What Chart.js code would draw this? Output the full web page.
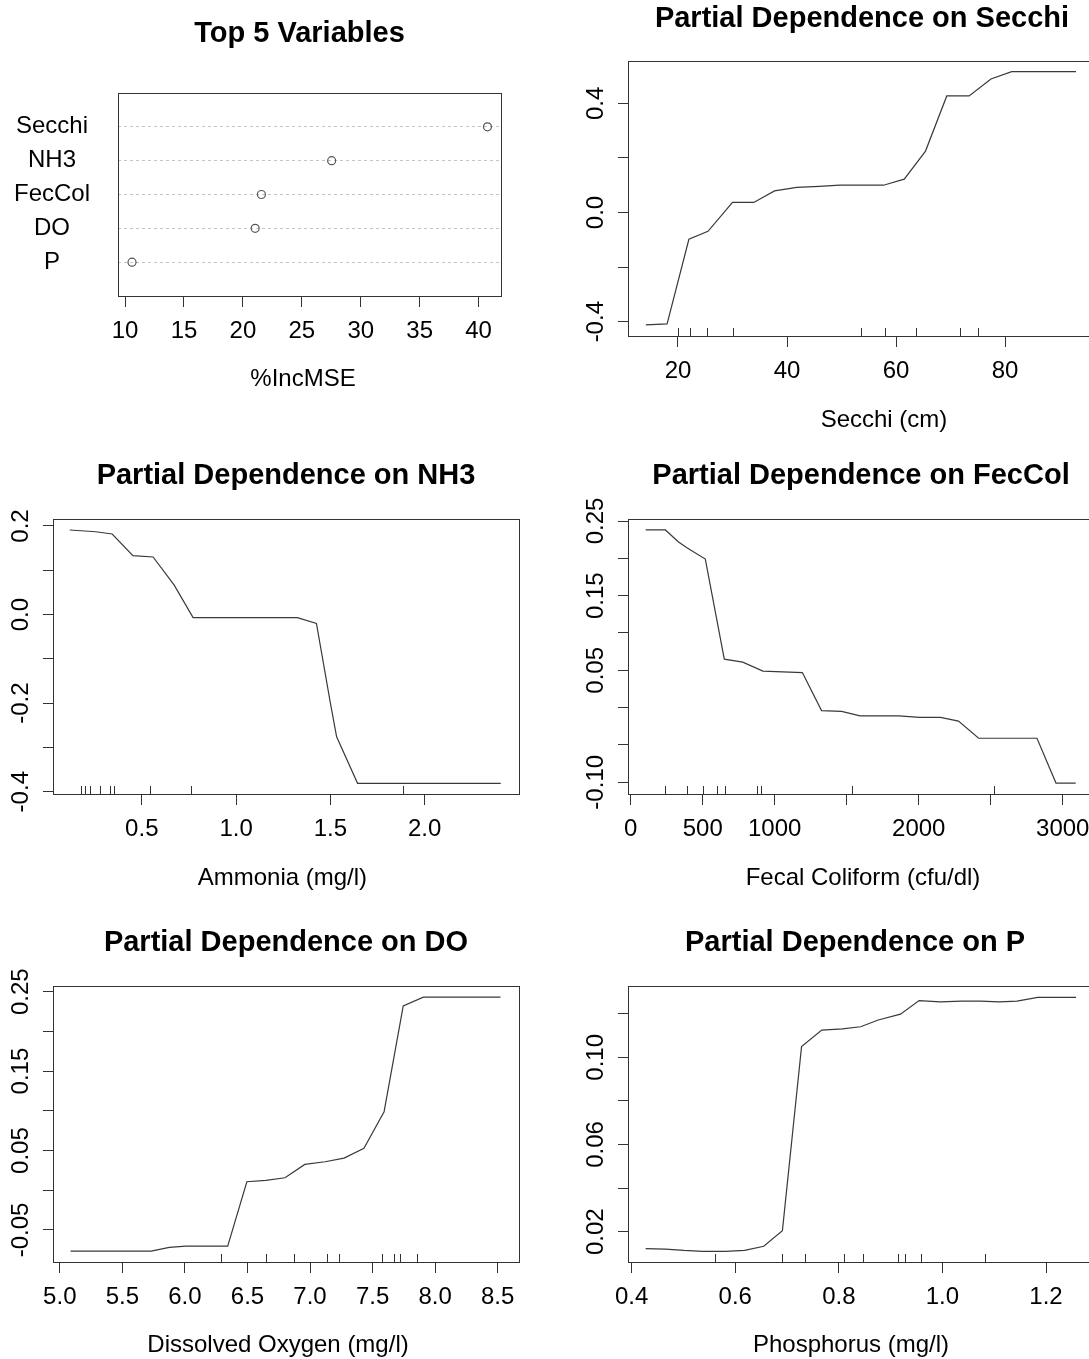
<!DOCTYPE html>
<html>
<head>
<meta charset="utf-8">
<title>Random forest: variable importance and partial dependence</title>
<script src="https://cdn.jsdelivr.net/npm/chart.js@4.4.1/dist/chart.umd.min.js"></script>
<style>
  html, body { margin: 0; padding: 0; background: #fff; }
  #page { position: relative; width: 1089px; height: 1359px; overflow: hidden; background: #fff; }
  #page canvas { position: absolute; }
</style>
</head>
<body>
<div id="page"></div>
<script>
// ---- variable importance (%IncMSE) ----
const varNames = ['Secchi', 'NH3', 'FecCol', 'DO', 'P'];
const incMSE = [40.75, 27.53, 21.57, 21.04, 10.59];
const incTicks = [10, 15, 20, 25, 30, 35, 40];
const incTickLabels = ['10', '15', '20', '25', '30', '35', '40'];

// ---- partial dependence on Secchi ----
const secchiX = [14.1, 18.0, 22.0, 25.5, 30.0, 33.9, 37.7, 41.8, 45.9, 49.7, 57.7, 61.5, 65.4, 69.3, 73.4, 77.4, 81.2, 93.0];
const secchiY = [-0.412, -0.408, -0.098, -0.069, 0.037, 0.037, 0.079, 0.092, 0.096, 0.100, 0.100, 0.122, 0.225, 0.427, 0.427, 0.489, 0.516, 0.516];
const secchiRug = [20, 22.2, 25.3, 30, 53.5, 58, 63.7, 71.7, 75];
const secchiXTicks = [20, 40, 60, 80];
const secchiXLabels = ['20', '40', '60', '80'];
const secchiYTicks = [-0.4, -0.2, 0, 0.2, 0.4];
const secchiYLabels = ['-0.4', '', '0.0', '', '0.4'];

// ---- partial dependence on NH3 ----
const nh3X = [0.118, 0.256, 0.343, 0.453, 0.560, 0.671, 0.772, 1.325, 1.426, 1.500, 1.533, 1.644, 2.403];
const nh3Y = [0.191, 0.187, 0.182, 0.133, 0.130, 0.067, -0.007, -0.007, -0.020, -0.200, -0.276, -0.381, -0.381];
const nh3Rug = [0.177, 0.201, 0.225, 0.280, 0.330, 0.350, 0.542, 0.759, 1.887];
const nh3XTicks = [0.5, 1.0, 1.5, 2.0];
const nh3XLabels = ['0.5', '1.0', '1.5', '2.0'];
const nh3YTicks = [-0.4, -0.3, -0.2, -0.1, 0, 0.1, 0.2];
const nh3YLabels = ['-0.4', '', '-0.2', '', '0.0', '', '0.2'];

// ---- partial dependence on FecCol ----
const fecX = [104, 241, 332, 393, 518, 650, 778, 918, 1192, 1325, 1465, 1592, 1862, 2006, 2151, 2276, 2416, 2821, 2953, 3090];
const fecY = [0.238, 0.238, 0.222, 0.214, 0.199, 0.065, 0.061, 0.049, 0.047, -0.004, -0.005, -0.011, -0.011, -0.013, -0.013, -0.018, -0.041, -0.041, -0.101, -0.101];
const fecRug = [236, 388, 501, 602, 653, 879, 903, 1537, 2524];
const fecXTicks = [0, 500, 1000, 1500, 2000, 2500, 3000];
const fecXLabels = ['0', '500', '1000', '', '2000', '', '3000'];
const fecYTicks = [-0.10, -0.05, 0, 0.05, 0.10, 0.15, 0.20, 0.25];
const fecYLabels = ['-0.10', '', '', '0.05', '', '0.15', '', '0.25'];

// ---- partial dependence on DO ----
const doX = [5.086, 5.731, 5.875, 6.008, 6.342, 6.495, 6.647, 6.800, 6.958, 7.120, 7.272, 7.431, 7.592, 7.745, 7.906, 8.522];
const doY = [-0.0766, -0.0766, -0.0720, -0.0703, -0.0703, 0.0107, 0.0124, 0.0157, 0.0325, 0.0359, 0.0405, 0.0527, 0.0989, 0.2320, 0.2430, 0.2430];
const doRug = [6.292, 6.647, 6.870, 7.133, 7.231, 7.578, 7.675, 7.717, 7.856];
const doXTicks = [5.0, 5.5, 6.0, 6.5, 7.0, 7.5, 8.0, 8.5];
const doXLabels = ['5.0', '5.5', '6.0', '6.5', '7.0', '7.5', '8.0', '8.5'];
const doYTicks = [-0.05, 0, 0.05, 0.10, 0.15, 0.20, 0.25];
const doYLabels = ['-0.05', '', '0.05', '', '0.15', '', '0.25'];

// ---- partial dependence on P ----
const pX = [0.427, 0.465, 0.501, 0.537, 0.581, 0.618, 0.655, 0.691, 0.728, 0.767, 0.807, 0.842, 0.876, 0.919, 0.955, 0.996, 1.037, 1.073, 1.110, 1.144, 1.184, 1.258];
const pY = [0.0122, 0.0120, 0.0114, 0.0110, 0.0110, 0.0114, 0.0133, 0.0205, 0.1049, 0.1125, 0.1130, 0.1140, 0.1171, 0.1198, 0.1260, 0.1254, 0.1258, 0.1258, 0.1254, 0.1258, 0.1275, 0.1275];
const pRug = [0.560, 0.690, 0.735, 0.810, 0.847, 0.915, 0.928, 0.958, 1.082];
const pXTicks = [0.4, 0.6, 0.8, 1.0, 1.2];
const pXLabels = ['0.4', '0.6', '0.8', '1.0', '1.2'];
const pYTicks = [0.02, 0.04, 0.06, 0.08, 0.10, 0.12];
const pYLabels = ['0.02', '', '0.06', '', '0.10', ''];

const FONT = '"Liberation Sans", Arial, Helvetica, sans-serif';
const INK = '#000';
const LINE = '#333';
Chart.defaults.font.family = FONT;
Chart.defaults.color = INK;

// draws the frame, rug, rotated y labels and the titles in R style
const rFrame = {
  id: 'rframe',
  afterDraw(chart, args, o) {
    const ctx = chart.ctx, ca = chart.chartArea;
    ctx.save();
    ctx.strokeStyle = LINE;
    ctx.lineWidth = 1;
    ctx.strokeRect(Math.round(ca.left) + 0.5, Math.round(ca.top) + 0.5,
      Math.round(ca.right - ca.left), Math.round(ca.bottom - ca.top));

    if (o.rug) {
      const xs = chart.scales.x;
      ctx.beginPath();
      o.rug.forEach(v => {
        const px = Math.round(xs.getPixelForValue(v)) + 0.5;
        ctx.moveTo(px, ca.bottom);
        ctx.lineTo(px, ca.bottom - 8);
      });
      ctx.stroke();
    }

    ctx.fillStyle = INK;
    if (o.yTicks) {
      const ys = chart.scales.y;
      ctx.font = '24px ' + FONT;
      ctx.textAlign = 'center';
      ctx.textBaseline = 'alphabetic';
      o.yTicks.forEach((v, i) => {
        const lab = o.yLabels[i];
        if (!lab) return;
        ctx.save();
        ctx.translate(ca.left - 25, ys.getPixelForValue(v));
        ctx.rotate(-Math.PI / 2);
        ctx.fillText(lab, 0, 0);
        ctx.restore();
      });
    }

    ctx.textAlign = 'center';
    ctx.textBaseline = 'alphabetic';
    ctx.font = 'bold 29px ' + FONT;
    ctx.fillText(o.title, o.titleX - o.ox, o.titleBase - o.oy);
    ctx.font = '24px ' + FONT;
    ctx.fillText(o.xTitle, o.xTitleX - o.ox, o.xTitleBase - o.oy);
    ctx.restore();
  }
};

function xyPoints(xs, ys) {
  return xs.map((x, i) => ({ x: x, y: ys[i] }));
}

function pinTicks(values) {
  return axis => { axis.ticks = values.map(v => ({ value: v })); };
}

// one panel = one canvas; the box is pinned through padding and fixed axis sizes
function makePanel(p) {
  const cv = document.createElement('canvas');
  cv.width = p.w; cv.height = p.h;
  cv.style.left = p.cx + 'px'; cv.style.top = p.cy + 'px';
  cv.style.width = p.w + 'px'; cv.style.height = p.h + 'px';
  document.getElementById('page').appendChild(cv);

  const yWidth = p.yWidth || 12;
  const xHeight = 60;
  const isDot = p.kind === 'dot';

  const yScale = {
    type: 'linear', min: p.yMin, max: p.yMax,
    afterBuildTicks: pinTicks(p.yTicks),
    afterFit: s => { s.width = yWidth; },
    grid: { drawOnChartArea: false, tickLength: 10, tickColor: LINE, tickWidth: 1 },
    border: { display: false },
    ticks: { display: false }
  };
  if (isDot) {
    yScale.grid = { drawOnChartArea: true, drawTicks: false, color: '#c4c4c4', lineWidth: 1 };
    yScale.border = { display: false, dash: [3, 3] };
    yScale.ticks = {
      display: true, autoSkip: false, crossAlign: 'center', padding: 28,
      font: { size: 24 }, color: INK,
      callback: v => p.yNames[p.yTicks.indexOf(v)] || ''
    };
  }

  return new Chart(cv, {
    type: isDot ? 'scatter' : 'line',
    data: { datasets: [p.dataset] },
    options: {
      responsive: false,
      animation: false,
      devicePixelRatio: 1,
      layout: {
        padding: {
          left: p.box.L - p.cx - yWidth,
          top: p.box.T - p.cy,
          right: p.cx + p.w - p.box.R,
          bottom: p.cy + p.h - p.box.B - xHeight
        }
      },
      plugins: {
        legend: { display: false },
        tooltip: { enabled: false },
        rframe: {
          ox: p.cx, oy: p.cy,
          title: p.title, titleX: p.titleX, titleBase: p.titleBase,
          xTitle: p.xTitle, xTitleX: p.xTitleX, xTitleBase: p.xTitleBase,
          rug: p.rug, yTicks: isDot ? null : p.yTicks, yLabels: p.yLabels
        }
      },
      scales: {
        x: {
          type: 'linear', min: p.xMin, max: p.xMax,
          afterBuildTicks: pinTicks(p.xTicks),
          afterFit: s => { s.height = xHeight; },
          grid: { drawOnChartArea: false, tickLength: 11, tickColor: LINE, tickWidth: 1 },
          border: { display: false },
          ticks: {
            autoSkip: false, maxRotation: 0, padding: 10,
            font: { size: 24 }, color: INK,
            callback: (v, i) => p.xLabels[i]
          }
        },
        y: yScale
      }
    },
    plugins: [rFrame]
  });
}

function curve(xs, ys) {
  return {
    data: xyPoints(xs, ys),
    borderColor: '#3a3a3a', borderWidth: 1.2,
    pointRadius: 0, tension: 0, fill: false
  };
}

// importance dot chart
makePanel({
  kind: 'dot', cx: 0, cy: 0, w: 545, h: 450, yWidth: 118,
  box: { L: 118, T: 93, R: 501, B: 296 },
  xMin: 9.40, xMax: 41.90, yMin: 0, yMax: 6,
  xTicks: incTicks, xLabels: incTickLabels,
  yTicks: [5, 4, 3, 2, 1], yNames: varNames,
  dataset: {
    data: incMSE.map((v, i) => ({ x: v, y: varNames.length - i })),
    pointRadius: 4, pointBorderWidth: 1.2,
    pointBorderColor: '#555', pointBackgroundColor: 'rgba(0,0,0,0)',
    showLine: false
  },
  title: 'Top 5 Variables', titleX: 299.5, titleBase: 42,
  xTitle: '%IncMSE', xTitleX: 303, xTitleBase: 386
});

makePanel({
  cx: 545, cy: 0, w: 560, h: 450,
  box: { L: 628, T: 61, R: 1093, B: 336 },
  xMin: 10.83, xMax: 96.12, yMin: -0.4524, yMax: 0.555,
  xTicks: secchiXTicks, xLabels: secchiXLabels,
  yTicks: secchiYTicks, yLabels: secchiYLabels,
  dataset: curve(secchiX, secchiY), rug: secchiRug,
  title: 'Partial Dependence on Secchi', titleX: 862, titleBase: 26.7,
  xTitle: 'Secchi (cm)', xTitleX: 884, xTitleBase: 426.5
});

makePanel({
  cx: 0, cy: 450, w: 545, h: 460,
  box: { L: 53, T: 519, R: 519, B: 794 },
  xMin: 0.0292, xMax: 2.5, yMin: -0.4052, yMax: 0.2158,
  xTicks: nh3XTicks, xLabels: nh3XLabels,
  yTicks: nh3YTicks, yLabels: nh3YLabels,
  dataset: curve(nh3X, nh3Y), rug: nh3Rug,
  title: 'Partial Dependence on NH3', titleX: 286, titleBase: 484,
  xTitle: 'Ammonia (mg/l)', xTitleX: 282.4, xTitleBase: 885
});

makePanel({
  cx: 545, cy: 450, w: 560, h: 460,
  box: { L: 628, T: 519, R: 1093, B: 794 },
  xMin: -18.75, xMax: 3210, yMin: -0.1157, yMax: 0.2527,
  xTicks: fecXTicks, xLabels: fecXLabels,
  yTicks: fecYTicks, yLabels: fecYLabels,
  dataset: curve(fecX, fecY), rug: fecRug,
  title: 'Partial Dependence on FecCol', titleX: 861, titleBase: 484,
  xTitle: 'Fecal Coliform (cfu/dl)', xTitleX: 863, xTitleBase: 885
});

makePanel({
  cx: 0, cy: 910, w: 545, h: 449,
  box: { L: 53, T: 986, R: 519, B: 1262 },
  xMin: 4.9456, xMax: 8.6703, yMin: -0.0903, yMax: 0.2571,
  xTicks: doXTicks, xLabels: doXLabels,
  yTicks: doYTicks, yLabels: doYLabels,
  dataset: curve(doX, doY), rug: doRug,
  title: 'Partial Dependence on DO', titleX: 286, titleBase: 951,
  xTitle: 'Dissolved Oxygen (mg/l)', xTitleX: 278, xTitleBase: 1351.7
});

makePanel({
  cx: 545, cy: 910, w: 560, h: 449,
  box: { L: 628, T: 986, R: 1093, B: 1262 },
  xMin: 0.3929, xMax: 1.2907, yMin: 0.0061, yMax: 0.1327,
  xTicks: pXTicks, xLabels: pXLabels,
  yTicks: pYTicks, yLabels: pYLabels,
  dataset: curve(pX, pY), rug: pRug,
  title: 'Partial Dependence on P', titleX: 855, titleBase: 951,
  xTitle: 'Phosphorus (mg/l)', xTitleX: 851, xTitleBase: 1351.7
});
</script>
</body>
</html>
